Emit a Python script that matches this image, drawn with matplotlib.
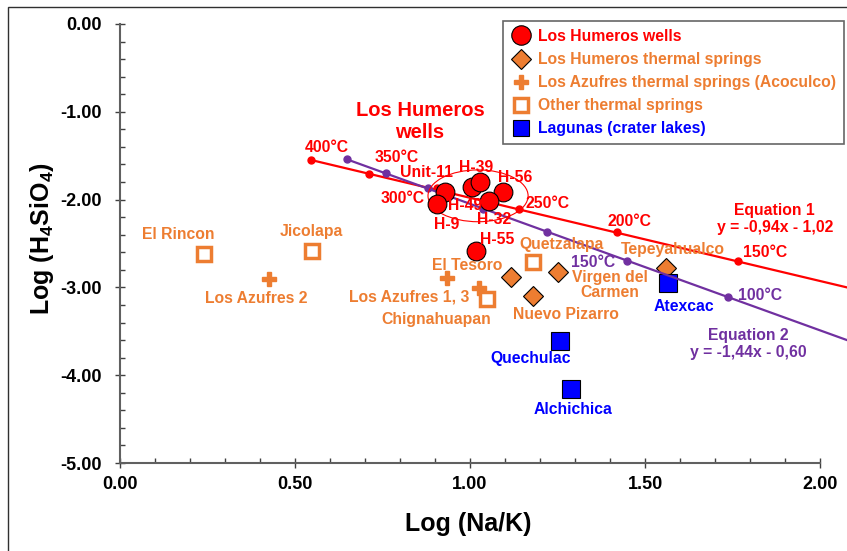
import matplotlib
matplotlib.use("Agg")
from matplotlib import pyplot as plt
from matplotlib.patches import Ellipse, Rectangle
from matplotlib.lines import Line2D

plt.rcParams['font.family'] = ['Liberation Sans', 'DejaVu Sans']
plt.rcParams['font.weight'] = 'bold'
plt.rcParams['axes.labelweight'] = 'bold'
plt.rcParams['mathtext.fontset'] = 'custom'
plt.rcParams['mathtext.rm'] = 'Liberation Sans:bold'
plt.rcParams['mathtext.bf'] = 'Liberation Sans:bold'
plt.rcParams['mathtext.it'] = 'Liberation Sans:bold'

RED = '#FF0000'
ORANGE = '#ED7D31'
BLUE = '#0000FF'
PURPLE = '#7030A0'

# Los Humeros wells
wells_names = ["Unit-11", "H-9", "H-49", "H-39", "H-56", "H-32", "H-55"]
wells_x = [0.929, 0.906, 1.006, 1.029, 1.094, 1.054, 1.017]
wells_y = [-1.913, -2.050, -1.856, -1.800, -1.913, -2.016, -2.585]

# Los Humeros thermal springs
lh_springs_x = [1.117, 1.250, 1.179, 1.560]
lh_springs_y = [-2.885, -2.828, -3.098, -2.783]

# Los Azufres thermal springs (Acoculco)
azufres_x = [0.426, 0.933, 1.026]
azufres_y = [-2.904, -2.897, -3.010]

# Other thermal springs
other_names = ["El Rincon", "Jicolapa", "Quetzalapa", "Chignahuapan"]
other_x = [0.241, 0.549, 1.179, 1.049]
other_y = [-2.623, -2.585, -2.707, -3.132]

# Lagunas (crater lakes)
lagunas_names = ["Atexcac", "Quechulac", "Alchichica"]
lagunas_x = [1.567, 1.258, 1.289]
lagunas_y = [-2.946, -3.607, -4.161]

# Equation 1 (red) temperature points and line
eq1_temps = ["400°C", "350°C", "300°C", "250°C", "200°C", "150°C"]
eq1_x = [0.546, 0.712, 0.907, 1.139, 1.421, 1.767]
eq1_y = [-1.549, -1.712, -1.873, -2.107, -2.372, -2.699]
eq1_line_x = [0.546, 2.077]
eq1_line_y = [-1.549, -3.00]

# Equation 2 (purple) temperature points and line
eq2_x = [0.648, 0.759, 0.880, 1.038, 1.219, 1.448, 1.736]
eq2_y = [-1.541, -1.694, -1.868, -2.107, -2.366, -2.696, -3.106]
eq2_line_x = [0.648, 2.077]
eq2_line_y = [-1.541, -3.60]

W, H = 847, 551
fig = plt.figure(figsize=(W / 100, H / 100), dpi=100)
ax = fig.add_axes([120 / W, (H - 463) / H, 700 / W, 439 / H])

# lines
ax.plot(eq1_line_x, eq1_line_y, color=RED, lw=1.6, zorder=3, clip_on=False)
ax.plot(eq1_x, eq1_y, 'o', color=RED, ms=5, zorder=3)
ax.plot(eq2_line_x, eq2_line_y, color=PURPLE, lw=1.6, zorder=3, clip_on=False)
ax.plot(eq2_x, eq2_y, 'o', color=PURPLE, ms=5, zorder=3)

# markers
ax.plot(lh_springs_x, lh_springs_y, 'D', color=ORANGE, mec='black', mew=0.8, ms=10.5, ls='none', zorder=2)
ax.plot(lagunas_x, lagunas_y, 's', color=BLUE, mec='black', mew=0.8, ms=12.5, ls='none', zorder=2.5)
ax.plot(azufres_x, azufres_y, 'P', color=ORANGE, mec=ORANGE, ms=10, ls='none', zorder=2)
ax.plot(other_x, other_y, 's', mfc='white', mec=ORANGE, mew=2.5, ms=10.5, ls='none', zorder=2)
ax.plot(wells_x, wells_y, 'o', color=RED, mec='black', mew=0.8, ms=13.5, ls='none', zorder=4)

ax.add_patch(Ellipse((1.023, -1.957), 0.286, 0.59, fill=False, edgecolor=RED, lw=0.8, zorder=3.5))

fs = 11.3
# well labels
well_lbl_pos = [(0.877, -1.697), (0.934, -2.289), (0.986, -2.062), (1.017, -1.629),
                (1.129, -1.743), (1.069, -2.232), (1.077, -2.449)]
for name, (tx, ty) in zip(wells_names, well_lbl_pos):
    ax.text(tx, ty, name, color=RED, fontsize=fs, ha='center', va='center', zorder=5)

ax.text(0.857, -1.116, "Los Humeros\nwells", color=RED, fontsize=14.5, ha='center', va='center',
        linespacing=1.2, zorder=5)

orange_labels = [("El Rincon", 0.166, -2.403), ("Jicolapa", 0.546, -2.369),
                 ("Los Azufres 2", 0.389, -3.121), ("El Tesoro", 0.991, -2.756),
                 ("Los Azufres 1, 3", 0.826, -3.109), ("Chignahuapan", 0.903, -3.360),
                 ("Quetzalapa", 1.263, -2.506), ("Virgen del\nCarmen", 1.40, -2.973),
                 ("Tepeyahualco", 1.58, -2.574), ("Nuevo Pizarro", 1.274, -3.314)]
for name, tx, ty in orange_labels:
    ax.text(tx, ty, name, color=ORANGE, fontsize=fs, ha='center', va='center', linespacing=1.05, zorder=5)

blue_labels = [("Atexcac", 1.611, -3.223), ("Quechulac", 1.174, -3.815), ("Alchichica", 1.294, -4.396)]
for name, tx, ty in blue_labels:
    ax.text(tx, ty, name, color=BLUE, fontsize=fs, ha='center', va='center', zorder=5)

eq1_lbl_pos = [(0.591, -1.401), (0.791, -1.526), (0.809, -1.993), (1.223, -2.039),
               (1.457, -2.244), (1.843, -2.597)]
for t, (tx, ty) in zip(eq1_temps, eq1_lbl_pos):
    ax.text(tx, ty, t, color=RED, fontsize=fs, ha='center', va='center', zorder=5)
ax.text(1.871, -2.221, "Equation 1\ny = -0,94x - 1,02", color=RED, fontsize=fs,
        ha='center', va='center', linespacing=1.1, zorder=5)

ax.text(1.351, -2.722, "150°C", color=PURPLE, fontsize=fs, ha='center', va='center', zorder=5)
ax.text(1.829, -3.087, "100°C", color=PURPLE, fontsize=fs, ha='center', va='center', zorder=5)
ax.text(1.794, -3.645, "Equation 2\ny = -1,44x - 0,60", color=PURPLE, fontsize=fs,
        ha='center', va='center', linespacing=1.1, zorder=5)

# axes styling
ax.set_xlim(0, 2.0)
ax.set_ylim(-5.0, 0.0)
ax.set_xticks([0, 0.5, 1.0, 1.5, 2.0])
ax.set_yticks([0, -1, -2, -3, -4, -5])
ax.set_xticklabels(["0.00", "0.50", "1.00", "1.50", "2.00"])
ax.set_yticklabels(["0.00", "-1.00", "-2.00", "-3.00", "-4.00", "-5.00"])
ax.set_xticks([i / 10 for i in range(21)], minor=True)
ax.set_yticks([-i / 5 for i in range(26)], minor=True)
ax.tick_params(which='major', direction='inout', length=7, width=1, color='#404040', labelsize=13, pad=6)
ax.tick_params(axis='y', which='major', pad=10)
ax.tick_params(which='minor', direction='in', length=3.6, width=1, color='#404040')
for s in ['top', 'right']:
    ax.spines[s].set_visible(False)
for s in ['left', 'bottom']:
    ax.spines[s].set_color('#606060')
    ax.spines[s].set_linewidth(1.5)

ax.set_xlabel("Log (Na/K)", fontsize=18, fontweight='bold')
ax.set_ylabel(r"Log (H$_{4}$SiO$_{4}$)", fontsize=18, fontweight='bold')
ax.xaxis.set_label_coords(0.497, -0.112)
ax.yaxis.set_label_coords(-0.092, 0.512)

handles = [
    Line2D([], [], marker='o', color=RED, mec='black', mew=0.8, ms=14, ls='none'),
    Line2D([], [], marker='D', color=ORANGE, mec='black', mew=0.8, ms=10.5, ls='none'),
    Line2D([], [], marker='P', color=ORANGE, ms=10, ls='none'),
    Line2D([], [], marker='s', mfc='white', mec=ORANGE, mew=2.5, ms=10.5, ls='none'),
    Line2D([], [], marker='s', color=BLUE, mec='black', mew=0.8, ms=12, ls='none'),
]
labels = ["Los Humeros wells", "Los Humeros thermal springs",
          "Los Azufres thermal springs (Acoculco)", "Other thermal springs",
          "Lagunas (crater lakes)"]
leg = fig.legend(handles, labels, loc='upper left', bbox_to_anchor=(503 / W, 1 - 21 / H),
                 fontsize=11.3, frameon=True, fancybox=False, edgecolor='#404040',
                 labelcolor=[RED, ORANGE, ORANGE, ORANGE, BLUE], handlelength=1.25,
                 handletextpad=0.5, labelspacing=0.52, borderpad=0.5, borderaxespad=0)
leg.get_frame().set_linewidth(1.2)

fig.add_artist(Rectangle((8 / W, -0.1), 1.1, 1.1 - 7.5 / H, transform=fig.transFigure,
                         fill=False, edgecolor='#303030', lw=1))

fig.savefig("out.png", dpi=100)
